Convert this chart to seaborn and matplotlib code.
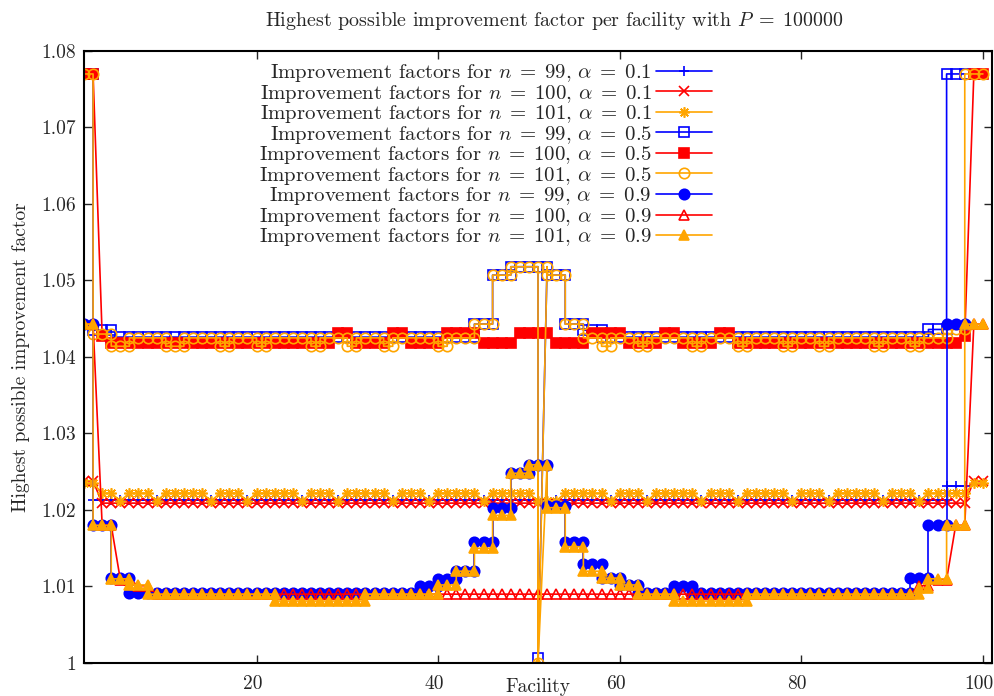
import matplotlib
matplotlib.use("Agg")
import matplotlib.pyplot as plt
import matplotlib.transforms as mtransforms
import seaborn as sns
import pandas as pd

# runs of (first facility, last facility, factor)
# a run that starts where the previous one ended gives a vertical jump
n99_a01 = [(1, 2, 1.0231), (2, 96, 1.0213), (96, 98, 1.0231)]
n100_a01 = [(1, 2, 1.0238), (3, 98, 1.0209), (99, 100, 1.0238)]
n101_a01 = [(1, 2, 1.0235), (3, 4, 1.0222), (5, 5, 1.0212), (6, 8, 1.0222), (9, 9, 1.0212),
            (10, 14, 1.0222), (15, 15, 1.0212), (16, 18, 1.0222), (19, 19, 1.0212),
            (20, 24, 1.0222), (25, 25, 1.0212), (26, 28, 1.0222), (29, 29, 1.0212),
            (30, 34, 1.0222), (35, 35, 1.0212), (36, 38, 1.0222), (39, 39, 1.0212),
            (40, 44, 1.0222), (45, 45, 1.0212), (46, 50, 1.0222), (51, 53, 1.0212),
            (54, 58, 1.0222), (59, 59, 1.0212), (60, 62, 1.0222), (63, 63, 1.0212),
            (64, 68, 1.0222), (69, 69, 1.0212), (70, 72, 1.0222), (73, 73, 1.0212),
            (74, 78, 1.0222), (79, 79, 1.0212), (80, 82, 1.0222), (83, 83, 1.0212),
            (84, 88, 1.0222), (89, 89, 1.0212), (90, 92, 1.0222), (93, 93, 1.0212),
            (94, 98, 1.0222), (99, 100, 1.0235)]

n99_a05 = [(1, 2, 1.077), (2, 4, 1.0435), (4, 44, 1.0426), (44, 46, 1.0443), (46, 48, 1.0507),
           (48, 51, 1.0518), (51, 51, 1.0007), (52, 52, 1.0518), (52, 54, 1.0507),
           (54, 56, 1.0443), (56, 58, 1.0435), (58, 94, 1.0426), (94, 96, 1.0436), (96, 98, 1.077)]
n100_a05 = [(1, 2, 1.077), (3, 3, 1.0428), (4, 28, 1.0418), (29, 30, 1.0431), (31, 34, 1.0418),
            (35, 36, 1.0431), (37, 40, 1.0418), (41, 44, 1.0431), (45, 48, 1.0418),
            (49, 52, 1.0431), (53, 56, 1.0418), (57, 60, 1.0431), (61, 64, 1.0418),
            (65, 66, 1.0431), (67, 70, 1.0418), (71, 72, 1.0431), (73, 97, 1.0418),
            (98, 98, 1.0428), (99, 100, 1.077)]
n101_a05 = [(1, 2, 1.077), (2, 4, 1.043), (4, 6, 1.0414), (6, 10, 1.0425), (10, 12, 1.0414),
            (12, 16, 1.0425), (16, 17, 1.0414), (17, 20, 1.0425), (20, 21, 1.0414),
            (21, 26, 1.0425), (26, 27, 1.0414), (27, 30, 1.0425), (30, 31, 1.0414),
            (31, 34, 1.0425), (34, 35, 1.0414), (35, 40, 1.0425), (40, 41, 1.0414),
            (41, 44, 1.0425), (44, 46, 1.0443), (46, 48, 1.0507), (48, 51, 1.0518),
            (51, 51, 1.0), (52, 52, 1.0518), (52, 54, 1.0507), (54, 56, 1.0443),
            (56, 58, 1.0425), (58, 59, 1.0414), (59, 62, 1.0425), (62, 63, 1.0414),
            (63, 68, 1.0425), (68, 69, 1.0414), (69, 73, 1.0425), (73, 74, 1.0414),
            (74, 78, 1.0425), (78, 79, 1.0414), (79, 82, 1.0425), (82, 83, 1.0414),
            (83, 88, 1.0425), (88, 89, 1.0414), (89, 92, 1.0425), (92, 93, 1.0414),
            (93, 96, 1.0425), (96, 98, 1.0436), (98, 100, 1.077)]

n99_a09 = [(1, 2, 1.0443), (2, 4, 1.018), (4, 6, 1.0111), (6, 38, 1.0092), (38, 40, 1.0101),
           (40, 42, 1.0110), (42, 44, 1.0120), (44, 46, 1.0158), (46, 48, 1.0203),
           (48, 50, 1.0248), (50, 52, 1.0259), (52, 54, 1.0205), (54, 56, 1.0158),
           (56, 58, 1.0129), (58, 60, 1.0111), (60, 62, 1.0102), (62, 66, 1.0092),
           (66, 68, 1.0101), (68, 92, 1.0092), (92, 94, 1.0111), (94, 96, 1.018), (96, 98, 1.0443)]
n100_a09 = [(1, 2, 1.0443), (3, 4, 1.018), (5, 6, 1.0109), (7, 8, 1.0101), (9, 92, 1.0090),
            (93, 94, 1.0101), (95, 96, 1.0109), (97, 98, 1.018), (99, 100, 1.0443)]
n101_a09 = [(1, 2, 1.0443), (2, 4, 1.018), (4, 6, 1.0110), (6, 8, 1.0102), (8, 22, 1.0090),
            (22, 32, 1.0081), (32, 40, 1.0090), (40, 42, 1.0102), (42, 44, 1.0120),
            (44, 46, 1.0150), (46, 48, 1.0193), (48, 50, 1.0248), (50, 51, 1.0259),
            (51, 51, 1.0), (52, 52, 1.0259), (52, 54, 1.0203), (54, 56, 1.0152),
            (56, 58, 1.0120), (58, 60, 1.0111), (60, 62, 1.0102), (62, 66, 1.0090),
            (66, 74, 1.0081), (74, 93, 1.0090), (93, 94, 1.0098), (94, 96, 1.0110),
            (96, 98, 1.018), (98, 100, 1.0443)]

ns = [99, 100, 101, 99, 100, 101, 99, 100, 101]
alphas = ['0.1', '0.1', '0.1', '0.5', '0.5', '0.5', '0.9', '0.9', '0.9']
runs = [n99_a01, n100_a01, n101_a01, n99_a05, n100_a05, n101_a05, n99_a09, n100_a09, n101_a09]

xticks = [20, 40, 60, 80, 100]
yticks = [1.0, 1.01, 1.02, 1.03, 1.04, 1.05, 1.06, 1.07, 1.08]
ytick_labels = ['1', '1.01', '1.02', '1.03', '1.04', '1.05', '1.06', '1.07', '1.08']


def unroll(r):
    fac, val = [], []
    for x0, x1, v in r:
        for x in range(x0, x1 + 1):
            fac.append(x)
            val.append(v)
    return pd.DataFrame({'Facility': fac, 'Factor': val})


sns.set_style('ticks')
plt.rcParams['font.family'] = ['cmr10', 'DejaVu Serif']
plt.rcParams['mathtext.fontset'] = 'cm'
plt.rcParams['axes.formatter.use_mathtext'] = True
fs = 14

blue, red, orange = '#0000ff', '#ff0000', '#ffa500'
# colour, marker, filled
styles = [(blue, '+', True), (red, 'x', True), (orange, (8, 2, 0), True),
          (blue, 's', False), (red, 's', True), (orange, 'o', False),
          (blue, 'o', True), (red, '^', False), (orange, '^', True)]

fig = plt.figure(figsize=(9.94, 6.96), dpi=100)
ax = fig.add_axes([84 / 994, 33 / 696, 908 / 994, 612 / 696])

for r, n, a, (c, m, filled) in zip(runs, ns, alphas, styles):
    df = unroll(r)
    lab = r'Improvement factors for $n\;=\;%d$, $\alpha\;=\;%s$' % (n, a)
    sns.lineplot(data=df, x='Facility', y='Factor', ax=ax, estimator=None, sort=False,
                 color=c, lw=1.2, marker=m, markersize=7.5,
                 mfc=c if filled else 'none', mec=c, mew=1.2, label=lab)

ax.set_xlim(1, 101)
ax.set_ylim(1.0, 1.08)
ax.set_xticks(xticks)
ax.set_xticklabels([str(t) for t in xticks])
ax.set_yticks(yticks)
ax.set_yticklabels(ytick_labels)
ax.tick_params(direction='in', top=True, right=True, length=6, width=1,
               labelsize=fs, pad=6)
ax.tick_params(axis='x', pad=9)
shift = mtransforms.ScaledTranslation(-4 / 100, 0, fig.dpi_scale_trans)
for t in ax.get_xticklabels():
    t.set_transform(t.get_transform() + shift)
for s in ax.spines.values():
    s.set_linewidth(1.5)
    s.set_color('black')

ax.set_xlabel('Facility', fontsize=fs)
ax.xaxis.set_label_coords(0.5, -0.024)
ax.set_ylabel('Highest possible improvement factor', fontsize=fs)
ax.yaxis.set_label_coords(-0.06, 0.5)

fig.text(554 / 994, 1 - 21 / 696, r'Highest possible improvement factor per facility with $P\;=\;100000$',
         ha='center', va='center', fontsize=14.4)

leg = ax.legend(loc='upper right', bbox_to_anchor=(0.692, 0.982), frameon=False,
                markerfirst=False, fontsize=15, handlelength=2.7, handletextpad=0.2,
                labelspacing=-0.07, borderpad=0, borderaxespad=0, numpoints=1)

fig.savefig('out.png', dpi=100)
